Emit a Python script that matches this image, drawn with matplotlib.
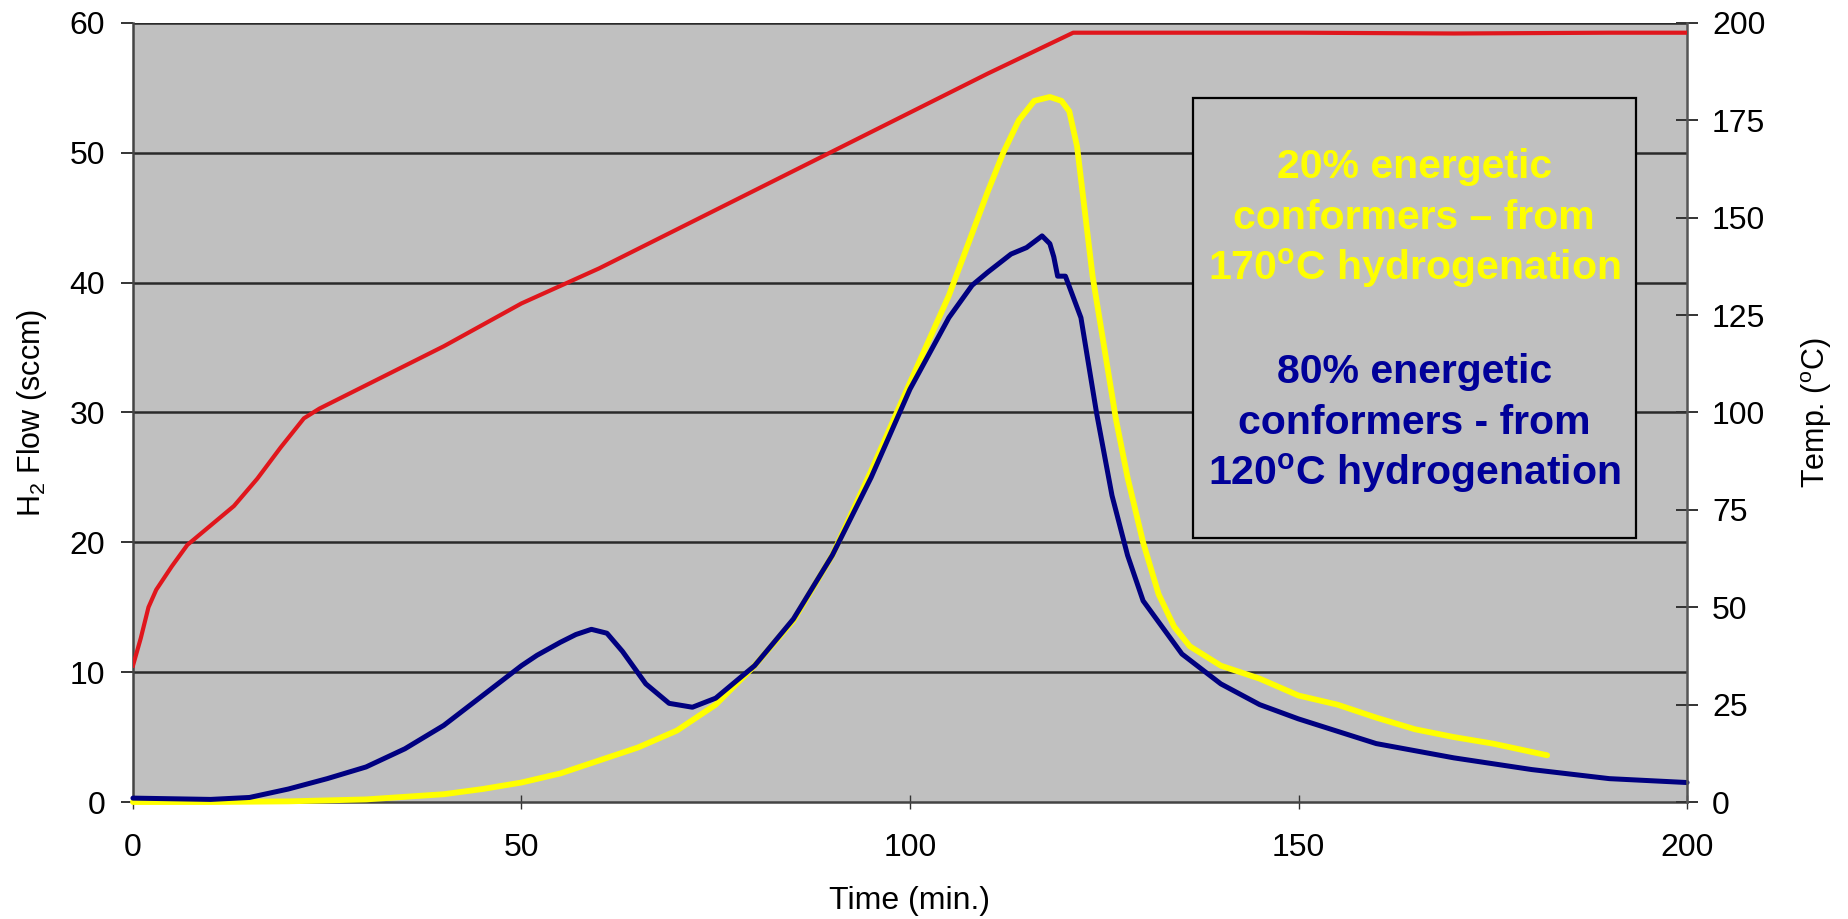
import matplotlib
matplotlib.use("Agg")
import matplotlib.pyplot as plt

plt.rcParams['font.family'] = ['Liberation Sans', 'DejaVu Sans']
plt.rcParams['mathtext.fontset'] = 'custom'
plt.rcParams['mathtext.rm'] = 'Liberation Sans'
plt.rcParams['mathtext.bf'] = 'Liberation Sans:bold'

# ---- data ----
# Temperature (deg C, right axis)
temp_t = [0, 1, 2, 3, 5, 7, 10, 13, 16, 19, 22, 24, 30, 40, 50, 60, 70, 80, 90, 100, 110, 121, 130, 150, 170, 190, 200]
temp_v = [35, 42, 50, 54.5, 60.5, 66, 71, 76, 83, 91, 98.5, 101, 107, 117, 128, 137, 147, 157, 167, 177, 187, 197.5, 197.5, 197.5, 197.3, 197.5, 197.5]

# 20% energetic conformers (yellow), H2 flow sccm
y20_t = [0, 10, 20, 30, 40, 45, 50, 55, 60, 65, 70, 75, 80, 85, 90, 95, 100, 105, 110, 112, 114, 116, 118, 119.5, 120.5, 121.5, 122.5, 123.5, 125, 126.5, 128, 130, 132, 134, 136, 140, 145, 150, 155, 160, 165, 170, 175, 182]
y20_v = [0, 0, 0.05, 0.2, 0.6, 1.0, 1.5, 2.2, 3.2, 4.2, 5.5, 7.5, 10.5, 14.0, 19.0, 25.5, 32.3, 39.0, 47.0, 50.0, 52.5, 54.0, 54.3, 54.0, 53.2, 50.5, 45.5, 40.5, 35.0, 29.5, 25.0, 20.0, 16.0, 13.5, 12.0, 10.5, 9.5, 8.2, 7.5, 6.5, 5.6, 5.0, 4.5, 3.6]

# 80% energetic conformers (blue), H2 flow sccm
y80_t = [0, 5, 10, 15, 20, 25, 30, 35, 40, 45, 50, 52, 55, 57, 59, 61, 63, 66, 69, 72, 75, 80, 85, 90, 95, 100, 105, 108, 110, 113, 115, 117, 118, 118.5, 119, 120, 122, 124, 126, 128, 130, 135, 140, 145, 150, 160, 170, 180, 190, 200]
y80_v = [0.3, 0.25, 0.2, 0.35, 1.0, 1.8, 2.7, 4.1, 5.9, 8.2, 10.5, 11.3, 12.3, 12.9, 13.3, 13.0, 11.6, 9.1, 7.6, 7.3, 8.0, 10.5, 14.1, 19.0, 25.0, 31.8, 37.3, 39.8, 40.8, 42.2, 42.7, 43.6, 43.0, 42.0, 40.5, 40.5, 37.3, 30.0, 23.6, 19.0, 15.5, 11.4, 9.1, 7.5, 6.4, 4.5, 3.4, 2.5, 1.8, 1.5]

x_ticks = [0, 50, 100, 150, 200]
flow_ticks = [0, 10, 20, 30, 40, 50, 60]
temp_ticks = [0, 25, 50, 75, 100, 125, 150, 175, 200]

fig = plt.figure(figsize=(18.49, 9.19), dpi=100)
fig.subplots_adjust(left=0.0719, right=0.9124, top=0.975, bottom=0.1273)
ax = fig.add_subplot(111)
ax.set_facecolor('#C0C0C0')

ax.set_xlim(0, 200)
ax.set_ylim(0, 60)
ax.set_xticks(x_ticks)
ax.set_yticks(flow_ticks)
for v in flow_ticks[1:]:
    ax.axhline(v, color='#2a2a2a', lw=1.8, zorder=1)

ax.plot(y20_t, y20_v, color='#FFFF00', lw=4.2, zorder=3, clip_on=False,
        solid_joinstyle='round', solid_capstyle='round')
ax.plot(y80_t, y80_v, color='#000080', lw=3.6, zorder=4, clip_on=False,
        solid_joinstyle='round', solid_capstyle='round')

ax.spines['top'].set_visible(False)
ax.spines['left'].set_color('#444444')
ax.spines['bottom'].set_color('#444444')
ax.spines['right'].set_visible(False)
ax.spines['left'].set_linewidth(1.8)
ax.spines['bottom'].set_linewidth(1.8)

ax.tick_params(axis='y', direction='out', length=9, width=1.4, color='#333333', labelsize=23, pad=11)
ax.tick_params(axis='x', direction='inout', length=10, width=1.0, color='#333333', labelsize=23, pad=17)

ax.set_xlabel('Time (min.)', fontsize=23, labelpad=17)
ax.set_ylabel('H$_2$ Flow (sccm)', fontsize=22, labelpad=15)

ax2 = ax.twinx()
ax2.set_ylim(0, 200)
ax2.set_yticks(temp_ticks)
ax2.plot(temp_t, temp_v, color='#E0161C', lw=3.0, zorder=5, solid_joinstyle='round')
for s in ['top', 'left', 'bottom']:
    ax2.spines[s].set_visible(False)
ax2.spines['right'].set_color('#555555')
ax2.spines['right'].set_linewidth(1.8)
ax2.tick_params(axis='y', direction='inout', length=16, width=1.4, color='#333333', labelsize=23, pad=10)
ax2.set_ylabel('Temp. ($^{\\rm o}$C)', fontsize=22, labelpad=24)

# annotation box
box = plt.Rectangle((0.682, 0.339), 0.285, 0.565, transform=ax2.transAxes,
                    facecolor='#C0C0C0', edgecolor='black', lw=1.6, zorder=10)
ax2.add_patch(box)
cx = 0.8245
lines_y = [
    ('20% energetic', '#FFFF00', 167),
    ('conformers – from', '#FFFF00', 218),
    ('170$^{\\mathbf{o}}$C hydrogenation', '#FFFF00', 268),
    ('80% energetic', '#000099', 372),
    ('conformers - from', '#000099', 423),
    ('120$^{\\mathbf{o}}$C hydrogenation', '#000099', 473),
]
for txt, col, ypix in lines_y:
    fy = (802 - ypix) / (802 - 23)
    ax2.text(cx, fy, txt, transform=ax2.transAxes, ha='center', va='center',
             fontsize=29.5, fontweight='bold', color=col, zorder=11)

fig.savefig('out.png', dpi=100)
